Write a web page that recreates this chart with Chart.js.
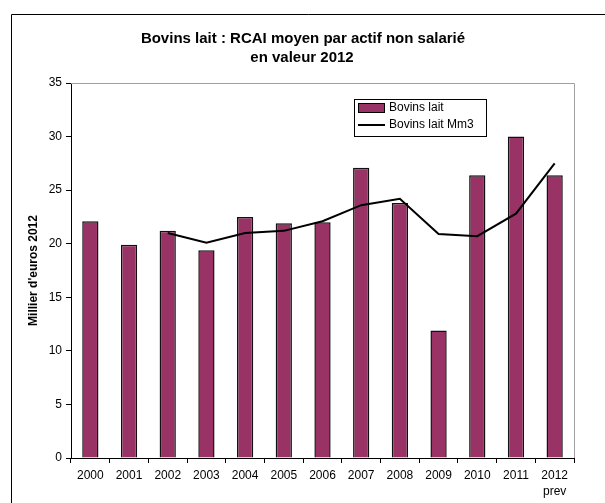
<!DOCTYPE html>
<html>
<head>
<meta charset="utf-8">
<script src="https://cdn.jsdelivr.net/npm/chart.js@4"></script>
<style>
  html, body { margin: 0; padding: 0; background: #fff; }
  #wrap { width: 605px; height: 503px; }
</style>
</head>
<body>
<div id="wrap"><canvas id="c" width="605" height="503"></canvas></div>
<script>
// Dairy farms: average pre-tax income per non-salaried worker (thousand euros, 2012 value)
const years = [['2000'], ['2001'], ['2002'], ['2003'], ['2004'], ['2005'], ['2006'],
               ['2007'], ['2008'], ['2009'], ['2010'], ['2011'], ['2012', 'prev']];
const rcaiBovinsLait = [22.1, 19.9, 21.2, 19.4, 22.5, 21.9, 22.0, 27.1, 23.8, 11.9, 26.4, 30.0, 26.4];
// three-year moving average
const rcaiMm3 = [null, null, 21.0, 20.1, 21.0, 21.2, 22.1, 23.6, 24.2, 20.9, 20.7, 22.8, 27.5];
const titleLines = ['Bovins lait : RCAI moyen par actif non salarié', 'en valeur 2012'];
const yAxisTitle = "Millier d'euros 2012";
const yMax = 35;
const yStep = 5;

const FONT = "'Liberation Sans', Arial, sans-serif";
const PLUM = '#993366';

// Outer frame, title, plot frame and boxed legend
const decor = {
  id: 'decor',
  beforeDraw(chart) {
    const ctx = chart.ctx;
    ctx.save();
    ctx.fillStyle = '#fff';
    ctx.fillRect(0, 0, chart.width, chart.height);
    ctx.strokeStyle = '#000';
    ctx.lineWidth = 1;
    ctx.beginPath();
    ctx.moveTo(11.5, chart.height);
    ctx.lineTo(11.5, 14.5);
    ctx.lineTo(chart.width, 14.5);
    ctx.stroke();
    ctx.fillStyle = '#000';
    ctx.font = 'bold 15px ' + FONT;
    ctx.textAlign = 'center';
    ctx.textBaseline = 'middle';
    ctx.fillText(titleLines[0], 303, 39);
    ctx.fillText(titleLines[1], 302, 58);
    ctx.restore();
  },
  beforeDatasetsDraw(chart) {
    const { ctx, chartArea: a } = chart;
    ctx.save();
    ctx.strokeStyle = '#a0a0a0';
    ctx.lineWidth = 1;
    ctx.beginPath();
    ctx.moveTo(a.left, Math.round(a.top) + 0.5);
    ctx.lineTo(Math.round(a.right) + 0.5, Math.round(a.top) + 0.5);
    ctx.lineTo(Math.round(a.right) + 0.5, a.bottom);
    ctx.stroke();
    ctx.restore();
  },
  afterDraw(chart) {
    const ctx = chart.ctx;
    const ds = chart.data.datasets;
    ctx.save();
    // legend box
    ctx.fillStyle = '#fff';
    ctx.fillRect(354, 99, 132, 37);
    ctx.strokeStyle = '#000';
    ctx.lineWidth = 1;
    ctx.strokeRect(354.5, 99.5, 132, 37);
    // bar swatch
    ctx.fillStyle = ds[0].backgroundColor;
    ctx.fillRect(358.5, 103.5, 26, 9);
    ctx.strokeRect(358.5, 103.5, 26, 9);
    // line swatch
    ctx.lineWidth = 2;
    ctx.beginPath();
    ctx.moveTo(358, 125);
    ctx.lineTo(385, 125);
    ctx.stroke();
    ctx.fillStyle = '#000';
    ctx.font = '12px ' + FONT;
    ctx.textAlign = 'left';
    ctx.textBaseline = 'middle';
    ctx.fillText(ds[0].label, 389, 108);
    ctx.fillText(ds[1].label, 389, 125);
    ctx.restore();
  }
};

new Chart(document.getElementById('c'), {
  type: 'bar',
  data: {
    labels: years,
    datasets: [
      {
        type: 'bar',
        label: 'Bovins lait',
        data: rcaiBovinsLait,
        backgroundColor: PLUM,
        borderColor: '#111',
        borderWidth: 1.5,
        barPercentage: 0.42,
        categoryPercentage: 1,
        order: 2
      },
      {
        type: 'line',
        label: 'Bovins lait Mm3',
        data: rcaiMm3,
        borderColor: '#000',
        borderWidth: 2,
        pointRadius: 0,
        tension: 0,
        fill: false,
        spanGaps: false,
        order: 1
      }
    ]
  },
  options: {
    responsive: false,
    animation: false,
    devicePixelRatio: 1,
    layout: { padding: { left: 12, top: 83, right: 31, bottom: 0 } },
    plugins: {
      legend: { display: false },
      title: { display: false },
      tooltip: { enabled: false }
    },
    scales: {
      x: {
        offset: true,
        grid: {
          offset: true,
          drawOnChartArea: false,
          drawTicks: true,
          tickLength: 5,
          color: '#000'
        },
        border: { color: '#000', width: 1 },
        ticks: {
          color: '#000',
          font: { family: FONT, size: 12, lineHeight: 1.3 },
          padding: 5,
          maxRotation: 0,
          autoSkip: false
        },
        afterFit(scale) { scale.height = 45; }
      },
      y: {
        min: 0,
        max: yMax,
        ticks: {
          stepSize: yStep,
          color: '#000',
          font: { family: FONT, size: 12 },
          padding: 4
        },
        grid: {
          drawOnChartArea: false,
          drawTicks: true,
          tickLength: 5,
          color: '#000'
        },
        border: { color: '#000', width: 1 },
        title: {
          display: true,
          text: yAxisTitle,
          color: '#000',
          font: { family: FONT, size: 12, weight: 'bold' },
          padding: { top: 14, bottom: 0 }
        },
        afterFit(scale) { scale.width = 59; }
      }
    }
  },
  plugins: [decor]
});
</script>
</body>
</html>
